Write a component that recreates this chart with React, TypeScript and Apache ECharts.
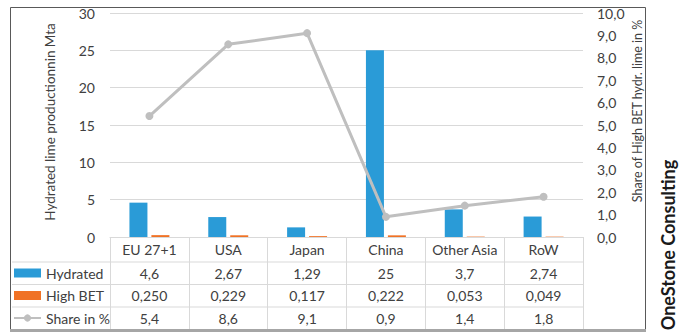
import React, { useEffect, useRef } from "react";
import * as echarts from "echarts";

const categories = ["EU 27+1", "USA", "Japan", "China", "Other Asia", "RoW"];
const hydrated = [4.6, 2.67, 1.29, 25, 3.7, 2.74];
const highBet = [0.25, 0.229, 0.117, 0.222, 0.053, 0.049];
const sharePct = [5.4, 8.6, 9.1, 0.9, 1.4, 1.8];
const seriesNames = ["Hydrated", "High BET", "Share in %"];
const leftAxisTicks = [0, 5, 10, 15, 20, 25, 30];
const rightAxisTicks = [0, 1, 2, 3, 4, 5, 6, 7, 8, 9, 10];
const leftTitle = "Hydrated lime productionnin Mta";
const rightTitle = "Share of High BET hydr. lime in %";
const brand = "OneStone Consulting";

const FONT = "Lato, 'Open Sans', sans-serif";
const BLUE = "#2a9bd7";
const ORANGE = "#f07225";
const GREY = "#bfbfbf";
const GRIDC = "#d9d9d9";
const TXT = "#404040";

const comma = (s: string) => s.replace(".", ",");

export default function App() {
  const ref = useRef<HTMLDivElement>(null);
  useEffect(() => {
    if (!ref.current) return;
    const chart = echarts.init(ref.current, undefined, { renderer: "svg" });
    const gridLeft = 110, gridRight = 583, gridTop = 13, gridBottom = 237;
    const rowLines = [262, 284.5, 307];
    const rowLabelAxis = (data: string[], margin: number) => ({
      type: "category",
      gridIndex: 0,
      position: "bottom",
      data,
      axisLine: { show: false },
      axisTick: { show: false },
      splitLine: { show: false },
      axisLabel: {
        interval: 0,
        margin,
        verticalAlign: "middle",
        color: TXT,
        fontSize: 14,
        fontFamily: FONT,
      },
    });
    chart.setOption({
      animation: false,
      textStyle: { fontFamily: FONT },
      grid: {
        left: gridLeft,
        right: 684 - gridRight,
        top: gridTop,
        bottom: 333 - gridBottom,
        containLabel: false,
      },
      legend: {
        orient: "vertical",
        left: 13,
        top: 265,
        itemWidth: 27,
        itemHeight: 9,
        itemGap: 6.5,
        padding: 0,
        selectedMode: false,
        textStyle: { color: TXT, fontSize: 14, lineHeight: 16, fontFamily: FONT },
        data: [
          { name: seriesNames[0], icon: "rect" },
          { name: seriesNames[1], icon: "rect" },
          { name: seriesNames[2] },
        ],
      },
      xAxis: [
        {
          type: "category",
          data: categories,
          axisLine: { show: true, lineStyle: { color: GRIDC, width: 1 } },
          axisTick: { show: true, interval: 0, length: 92, lineStyle: { color: GRIDC } },
          axisLabel: {
            interval: 0,
            margin: 12.5,
            verticalAlign: "middle",
            color: TXT,
            fontSize: 14,
            fontFamily: FONT,
          },
        },
        rowLabelAxis(hydrated.map((v) => comma(String(v))), 36),
        rowLabelAxis(highBet.map((v) => comma(v.toFixed(3))), 58.5),
        rowLabelAxis(sharePct.map((v) => comma(v.toFixed(1))), 81),
      ],
      yAxis: [
        {
          type: "value",
          min: leftAxisTicks[0],
          max: leftAxisTicks[leftAxisTicks.length - 1],
          interval: leftAxisTicks[1] - leftAxisTicks[0],
          axisLine: { show: false },
          axisTick: { show: false },
          splitLine: { show: true, lineStyle: { color: GRIDC, width: 1 } },
          axisLabel: { margin: 15, color: TXT, fontSize: 14, fontFamily: FONT },
        },
        {
          type: "value",
          position: "right",
          min: rightAxisTicks[0],
          max: rightAxisTicks[rightAxisTicks.length - 1],
          interval: rightAxisTicks[1] - rightAxisTicks[0],
          axisLine: { show: false },
          axisTick: { show: false },
          splitLine: { show: false },
          axisLabel: {
            margin: 14,
            color: TXT,
            fontSize: 14,
            fontFamily: FONT,
            formatter: (v: number) => comma(v.toFixed(1)),
          },
        },
      ],
      series: [
        {
          name: seriesNames[0],
          type: "bar",
          data: hydrated,
          barWidth: 18,
          barGap: "22%",
          itemStyle: { color: BLUE },
        },
        {
          name: seriesNames[1],
          type: "bar",
          data: highBet,
          barWidth: 18,
          barGap: "22%",
          itemStyle: { color: ORANGE },
        },
        {
          name: seriesNames[2],
          type: "line",
          yAxisIndex: 1,
          data: sharePct,
          symbol: "circle",
          symbolSize: 8,
          lineStyle: { color: GREY, width: 3 },
          itemStyle: { color: GREY },
          z: 5,
        },
      ],
      graphic: [
        ...rowLines.map((y) => ({
          type: "line",
          shape: { x1: 12, y1: y, x2: gridRight, y2: y },
          style: { stroke: GRIDC, lineWidth: 1 },
          silent: true,
        })),
        {
          type: "rect",
          shape: { x: 10.5, y: 7.5, width: 635, height: 322 },
          style: { fill: "none", stroke: "#595959", lineWidth: 1 },
          silent: true,
        },
        {
          type: "line",
          shape: { x1: 10, y1: 330.5, x2: 646, y2: 330.5 },
          style: { stroke: "#a6a6a6", lineWidth: 3 },
          silent: true,
        },
        {
          type: "text",
          x: 50,
          y: 122,
          rotation: Math.PI / 2,
          style: {
            text: leftTitle,
            font: `13.5px ${FONT}`,
            fill: TXT,
            textAlign: "center",
            textVerticalAlign: "middle",
          },
          silent: true,
        },
        {
          type: "text",
          x: 637,
          y: 111,
          rotation: Math.PI / 2,
          style: {
            text: rightTitle,
            font: `12.5px ${FONT}`,
            fill: TXT,
            textAlign: "center",
            textVerticalAlign: "middle",
          },
          silent: true,
        },
        {
          type: "text",
          x: 668,
          y: 245,
          rotation: Math.PI / 2,
          style: {
            text: brand,
            font: `bold 18px ${FONT}`,
            fill: "#1a1a1a",
            textAlign: "center",
            textVerticalAlign: "middle",
          },
          silent: true,
        },
      ],
    });
    return () => chart.dispose();
  }, []);
  return (
    <div
      ref={ref}
      style={{ position: "fixed", left: 0, top: 0, width: 684, height: 333, background: "#fff" }}
    />
  );
}
